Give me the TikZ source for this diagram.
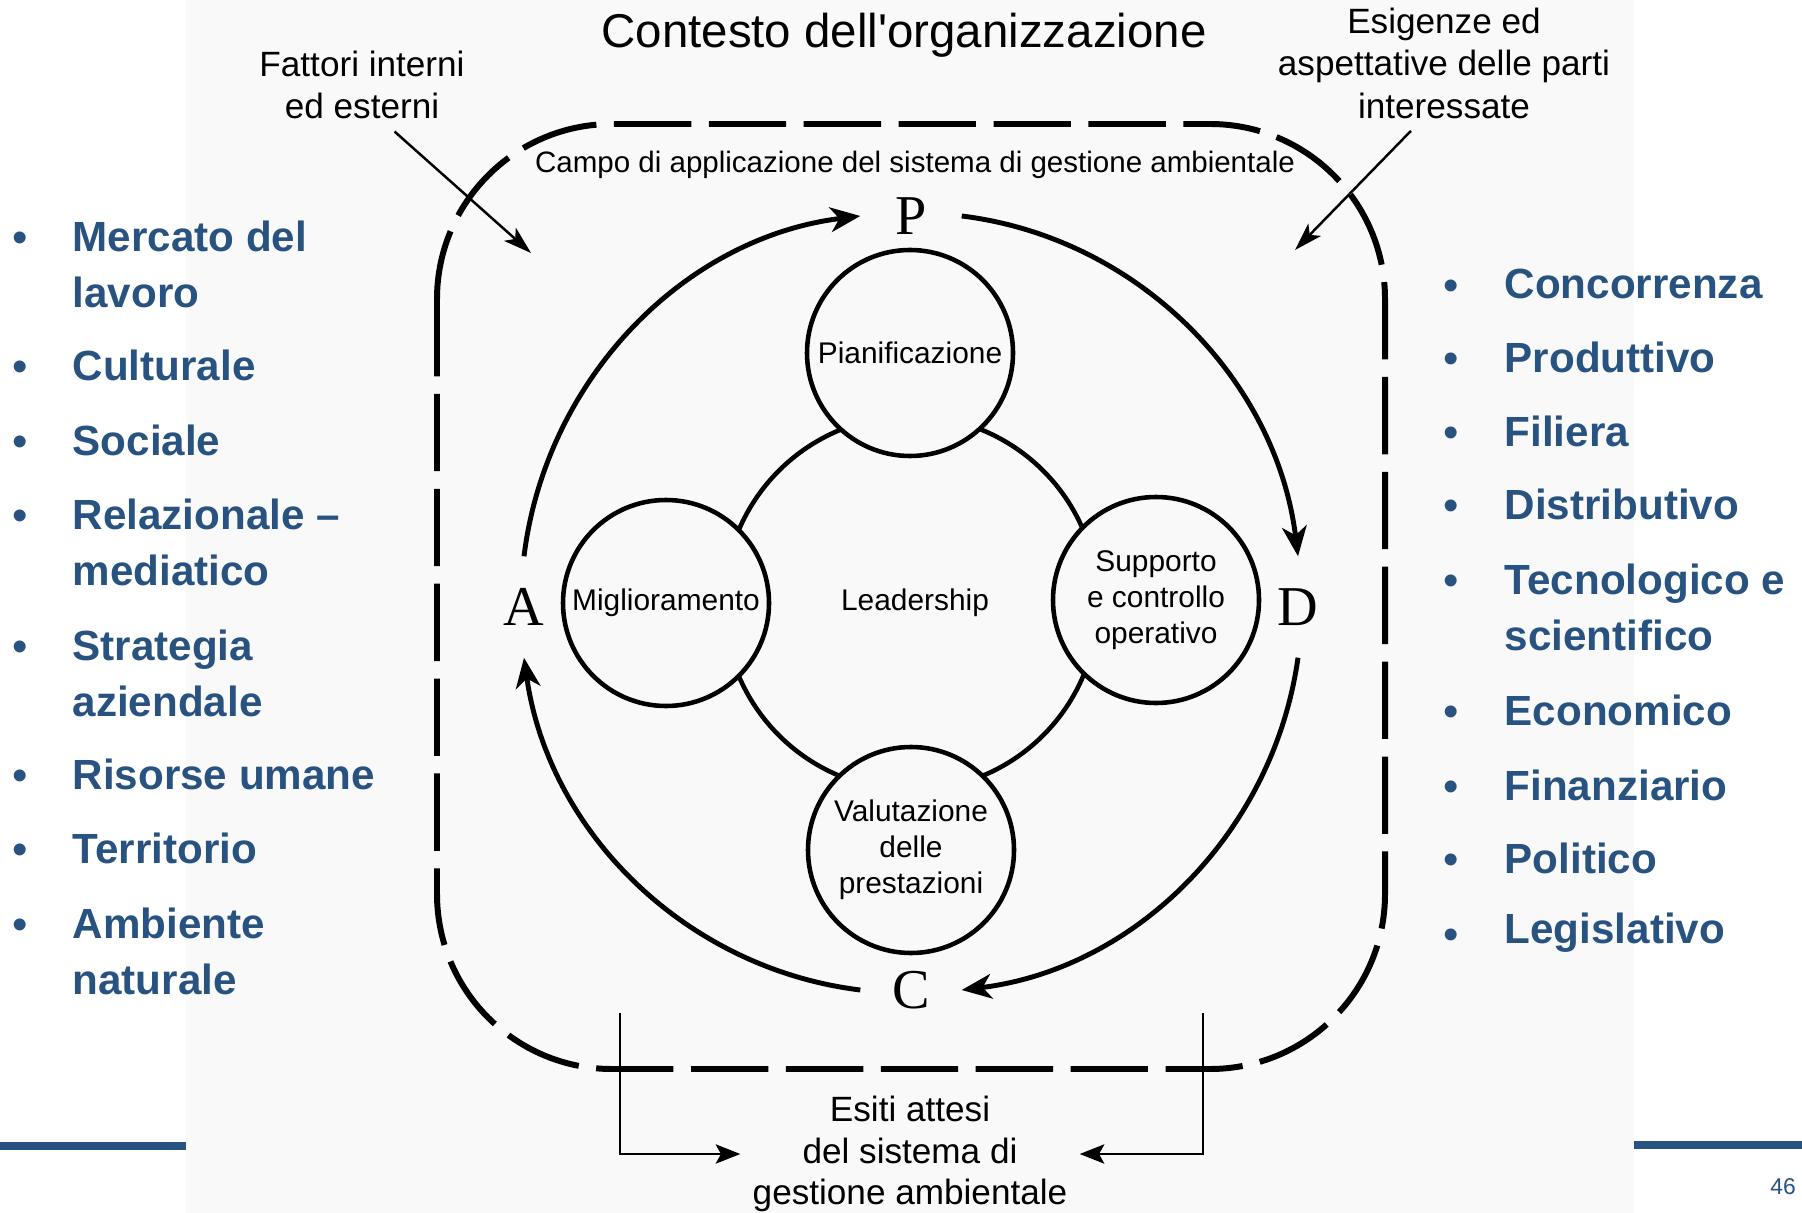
\documentclass[tikz,border=0pt]{standalone}
\usepackage{fontspec}
\setmainfont{Liberation Sans}
\newfontfamily\pdcafont{Liberation Serif}
\usetikzlibrary{arrows.meta}
\definecolor{slideblue}{RGB}{40,82,128}
\definecolor{panelgray}{RGB}{249,249,249}
\tikzset{
	phase/.style={draw, circle, line width=1.3pt, fill=panelgray, minimum size=2.06cm, inner sep=0pt, align=center, font=\fontsize{8.5}{10.2}\selectfont},
	letter/.style={circle, minimum size=1cm, inner sep=0pt, font=\pdcafont\fontsize{16}{16}\selectfont},
	cycle/.style={line width=1.4pt, -{Stealth[length=8.5pt,width=7pt,inset=2.5pt]}},
	pointer/.style={line width=0.7pt, -{Stealth[length=8pt,width=5pt,inset=2pt]}},
	outcome/.style={line width=0.6pt, -{Stealth[length=7pt,width=5.5pt,inset=1.5pt]}},
	listitem/.style={anchor=west, align=left, inner sep=0pt, text=slideblue, font=\bfseries\fontsize{12}{15.9}\selectfont},
	bullet/.style={inner sep=0pt, text=slideblue, font=\fontsize{12.5}{12.5}\selectfont},
	label/.style={align=center, font=\fontsize{10}{12.1}\selectfont}
}

\begin{document}
\begin{tikzpicture}
			%%%%% START %%%%%
			
			\useasboundingbox (0, 0) rectangle (18.02, -12.13);
			\fill[white] (0, 0) rectangle (18.02, -12.13);
			\fill[panelgray] (1.86, 0) rectangle (16.34, -12.13);
			
			\draw[line width=2pt, color=slideblue] (0, -11.46) -- (1.86, -11.46);
			\draw[line width=2pt, color=slideblue] (16.34, -11.45) -- (18.02, -11.45);
			\node[font=\fontsize{6.5}{8}\selectfont, text=slideblue] (page) at (17.83, -11.87) {46};
			
			\draw[line width=1.7pt, dash pattern=on 22pt off 5pt, rounded corners=1.75cm] (4.37, -1.24) rectangle (13.85, -10.69);
			
			\node[anchor=base, font=\fontsize{13.5}{16}\selectfont] (title) at (9.04, -0.48) {Contesto dell\textquotesingle organizzazione};
			\node[anchor=base, font=\fontsize{8.4}{10}\selectfont] (scope) at (9.15, -1.73) {Campo di applicazione del sistema di gestione ambientale};
			
			\node[label] (fattori) at (3.62, -0.85) {Fattori interni\\ed esterni};
			\node[label] (esigenze) at (14.44, -0.63) {Esigenze ed\\aspettative delle parti\\interessate};
			\coordinate (fattip) at (5.31, -2.53);
			\coordinate (esitip) at (12.95, -2.50);
			\draw[pointer] (fattori.-55) -- (fattip);
			\draw[pointer] (esigenze.-116) -- (esitip);
			
			\node[draw, circle, line width=1.3pt, minimum size=3.74cm, font=\fontsize{8.5}{10.2}\selectfont] (lead) at (9.11, -6.03) {\hspace{0.08cm}Leadership};
			\node[phase] (plan) at (9.10, -3.53) {Pianificazione};
			\node[phase] (supp) at (11.56, -6.00) {Supporto\\e controllo\\operativo};
			\node[phase] (eval) at (9.11, -8.50) {Valutazione\\delle\\prestazioni};
			\node[phase] (impr) at (6.66, -6.03) {Miglioramento};
			
			\node[letter] (P) at (9.11, -2.16) {P};
			\node[letter] (D) at (12.98, -6.07) {D};
			\node[letter] (C) at (9.11, -9.90) {C};
			\node[letter] (A) at (5.24, -6.07) {A};
			\draw[cycle] (A.north) to[out=83, in=187, looseness=0.95] (P.west);
			\draw[cycle] (P.east) to[out=-7, in=97, looseness=0.95] (D.north);
			\draw[cycle] (D.south) to[out=-98, in=7, looseness=0.95] (C.east);
			\draw[cycle] (C.west) to[out=173, in=-82, looseness=0.95] (A.south);
			
			\node[label, font=\fontsize{10}{11.8}\selectfont] (esiti) at (9.10, -11.54) {Esiti attesi\\del sistema di\\gestione ambientale};
			\coordinate (leftfoot) at (6.20, -10.13);
			\coordinate (rightfoot) at (12.03, -10.13);
			\draw[outcome] (leftfoot) |- (esiti.west);
			\draw[outcome] (rightfoot) |- (esiti.east);
			
			\node[bullet] (lb1) at (0.20, -2.42) {\textbullet};
			\node[listitem] (lt1) at (0.72, -2.64) {Mercato del\\lavoro};
			\node[bullet] (lb2) at (0.20, -3.71) {\textbullet};
			\node[listitem] (lt2) at (0.72, -3.65) {Culturale};
			\node[bullet] (lb3) at (0.20, -4.46) {\textbullet};
			\node[listitem] (lt3) at (0.72, -4.40) {Sociale};
			\node[bullet] (lb4) at (0.20, -5.20) {\textbullet};
			\node[listitem] (lt4) at (0.72, -5.42) {Relazionale --\\mediatico};
			\node[bullet] (lb5) at (0.20, -6.51) {\textbullet};
			\node[listitem] (lt5) at (0.72, -6.73) {Strategia\\aziendale};
			\node[bullet] (lb6) at (0.20, -7.80) {\textbullet};
			\node[listitem] (lt6) at (0.72, -7.74) {Risorse umane};
			\node[bullet] (lb7) at (0.20, -8.54) {\textbullet};
			\node[listitem] (lt7) at (0.72, -8.48) {Territorio};
			\node[bullet] (lb8) at (0.20, -9.29) {\textbullet};
			\node[listitem] (lt8) at (0.72, -9.51) {Ambiente\\naturale};
			
			\node[bullet] (rb1) at (14.51, -2.90) {\textbullet};
			\node[listitem] (rt1) at (15.04, -2.84) {Concorrenza};
			\node[bullet] (rb2) at (14.51, -3.63) {\textbullet};
			\node[listitem] (rt2) at (15.04, -3.57) {Produttivo};
			\node[bullet] (rb3) at (14.51, -4.37) {\textbullet};
			\node[listitem] (rt3) at (15.04, -4.31) {Filiera};
			\node[bullet] (rb4) at (14.51, -5.10) {\textbullet};
			\node[listitem] (rt4) at (15.04, -5.04) {Distributivo};
			\node[bullet] (rb5) at (14.51, -5.85) {\textbullet};
			\node[listitem] (rt5) at (15.04, -6.07) {Tecnologico e\\scientifico};
			\node[bullet] (rb6) at (14.51, -7.16) {\textbullet};
			\node[listitem] (rt6) at (15.04, -7.10) {Economico};
			\node[bullet] (rb7) at (14.51, -7.91) {\textbullet};
			\node[listitem] (rt7) at (15.04, -7.85) {Finanziario};
			\node[bullet] (rb8) at (14.51, -8.64) {\textbullet};
			\node[listitem] (rt8) at (15.04, -8.58) {Politico};
			\node[bullet] (rb9) at (14.51, -9.39) {\textbullet};
			\node[listitem] (rt9) at (15.04, -9.33) {Legislativo};
			
			%%%%% END %%%%%
\end{tikzpicture}
\end{document}
